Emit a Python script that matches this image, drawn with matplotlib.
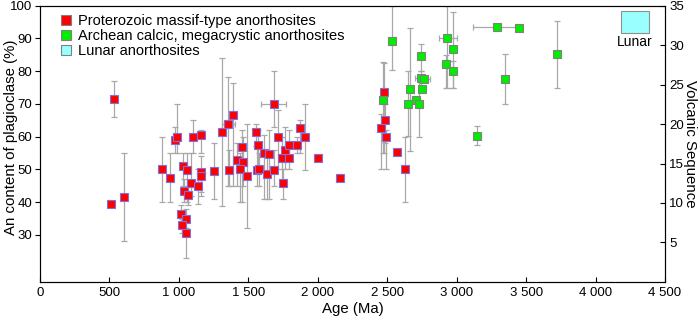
import numpy as np
import matplotlib
matplotlib.use("Agg")
import matplotlib.pyplot as plt
from matplotlib.patches import Rectangle
from matplotlib.lines import Line2D

plt.rcParams["font.family"] = ["Liberation Sans", "DejaVu Sans"]

# Proterozoic massif-type anorthosites: age (Ma), An (%), lower / upper error-bar ends
prot_age = [509, 535, 605, 878, 938, 972, 988, 1104, 1162, 1032, 1058, 1162, 1162, 1085,
            1135, 1034, 1066, 1015, 1049, 1025, 1049, 1250, 1310, 1356, 1387, 1358, 1416,
            1457, 1459, 1440, 1493, 1555, 1567, 1565, 1580, 1610, 1651, 1634, 1685, 1682,
            1714, 1740, 1747, 1766, 1795, 1795, 1850, 1872, 1910, 2004, 2160, 2477, 2482,
            2455, 2494, 2570, 2630]
prot_an = [39.4, 71.4, 41.5, 50, 47.5, 59, 60, 60, 60.5, 51, 49.8, 49.2, 48, 45.9,
           44.9, 43.5, 42.3, 36.5, 35, 33, 30.5, 49.4, 61.4, 64, 66.6, 49.8, 52.9,
           56.9, 52.4, 50, 48, 61.4, 57.5, 49.9, 50, 55.1, 54.6, 48.6, 49.9, 70,
           60, 53.5, 45.9, 55.9, 57.6, 53.5, 57.6, 62.6, 60, 53.5, 47.5, 73.6, 65.1,
           62.6, 60, 55.3, 50]
prot_lo = [39.4, 66, 28, 40, 40, 55, 55, 55, 55, 45, 40, 43, 42, 42,
           39.5, 40, 39, 33, 32, 30.5, 23, 41, 38.8, 45, 45, 45, 45,
           40, 45, 40, 32, 57, 50, 45, 45, 41, 41, 41, 45, 63,
           50, 45, 41, 50, 53, 50, 55, 55, 49.8, 53.5, 47.5, 55, 58,
           50, 50, 55.3, 40]
prot_hi = [39.4, 77, 55, 60, 55, 63, 70, 65, 62, 55, 55, 54, 50, 55,
           50, 47, 45, 39, 38, 35, 32, 58.2, 84, 78.3, 76.3, 56, 58,
           62, 60, 55, 64, 64, 62, 57, 55, 60.5, 62, 55, 56, 80,
           68, 60, 50, 63, 62, 57, 60, 65, 70, 53.5, 47.5, 82.6, 70,
           67, 62, 55.3, 60]
# horizontal age errors (index, low, high)
prot_xerr = [(20, 1025, 1075), (23, 1308, 1404), (39, 1591, 1773)]

# Archean calcic, megacrystic anorthosites
arch_age = [2467, 2537, 2647, 2666, 2707, 2731, 2746, 2742, 2765, 2751, 2930, 2925,
            2976, 2976, 3288, 3451, 3345, 3144, 3725]
arch_an = [71.3, 89.2, 70.1, 74.5, 71.1, 70.1, 84.6, 78, 77.6, 74.6, 90.1, 82.1,
           86.7, 80.2, 93.6, 93.1, 77.7, 60.2, 85.1]
arch_lo = [55, 80.4, 60.1, 55.6, 71.1, 60, 80, 75, 77.6, 74.6, 75, 75,
           75, 75, 92.5, 93.1, 70, 57.3, 75]
arch_hi = [82.7, 100, 80.2, 93.3, 71.1, 78, 88.3, 80, 77.6, 74.6, 100, 85,
           98, 83, 94.5, 93.1, 85.2, 63.3, 95.2]
arch_xerr = [(7, 2700, 2790), (8, 2720, 2810), (10, 2870, 3000), (14, 3115, 3456)]

# Lunar anorthosites field (age range, An range)
lunar_age = (4185, 4385)
lunar_an = (91.6, 98.5)

x_ticks = [0, 500, 1000, 1500, 2000, 2500, 3000, 3500, 4000, 4500]
x_labels = ["0", "500", "1 000", "1 500", "2 000", "2 500", "3 000", "3 500", "4 000", "4 500"]

fig = plt.figure(figsize=(7, 3.16), dpi=100)
ax = fig.add_axes([0.057, 0.108, 0.893, 0.874])

ebar = dict(fmt="none", ecolor="#a8a8a8", elinewidth=0.9, capsize=2.5, capthick=0.9, zorder=2)


def draw(age, an, lo, hi, xerr, face, edge):
    age = np.array(age, float)
    an = np.array(an, float)
    yerr = [an - np.array(lo), np.array(hi) - an]
    ax.errorbar(age, an, yerr=yerr, **ebar)
    for i, a0, a1 in xerr:
        ax.errorbar([age[i]], [an[i]], xerr=[[age[i] - a0], [a1 - age[i]]], **ebar)
    ax.plot(age, an, "s", ms=6.2, mfc=face, mec=edge, mew=0.8, zorder=3, ls="none")


draw(prot_age, prot_an, prot_lo, prot_hi, prot_xerr, "#ff0000", "#7f6fe0")
draw(arch_age, arch_an, arch_lo, arch_hi, arch_xerr, "#00ee00", "#808080")

ax.add_patch(Rectangle((lunar_age[0], lunar_an[0]), lunar_age[1] - lunar_age[0],
                       lunar_an[1] - lunar_an[0], fc="#99ffff", ec="#909090", lw=0.8, zorder=3))
ax.text(sum(lunar_age) / 2, lunar_an[0] - 0.6, "Lunar", ha="center", va="top", fontsize=10)

ax.set_xlim(0, 4500)
ax.set_ylim(15.65, 100)
ax.set_xticks(x_ticks)
ax.set_xticklabels(x_labels)
ax.set_yticks(range(30, 101, 10))
ax.tick_params(axis="x", direction="in", length=3.5, labelsize=9.5, pad=4)
ax.tick_params(axis="y", direction="out", length=3.5, labelsize=9.5, pad=2)
ax.set_xlabel("Age (Ma)", fontsize=10.8)
ax.xaxis.set_label_coords(0.5, -0.074)
ax.set_ylabel("An content of plagioclase (%)", fontsize=10.8)
ax.yaxis.set_label_coords(-0.035, 0.525)
for s in ax.spines.values():
    s.set_color("#333333")

ax2 = ax.twinx()
ax2.set_ylim(0, 35)
ax2.set_yticks(range(5, 36, 5))
ax2.tick_params(axis="y", direction="in", length=3.5, labelsize=9.5, pad=3)
ax2.set_ylabel("Volcanic Sequence", fontsize=10.8, rotation=270, va="center")
ax2.yaxis.set_label_coords(1.04, 0.5)

handles = [
    Line2D([], [], marker="s", ls="none", ms=7, mfc="#ff0000", mec="#808080", mew=0.8),
    Line2D([], [], marker="s", ls="none", ms=7, mfc="#00ee00", mec="#808080", mew=0.8),
    Line2D([], [], marker="s", ls="none", ms=7, mfc="#99ffff", mec="#808080", mew=0.8),
]
labels = ["Proterozoic massif-type anorthosites",
          "Archean calcic, megacrystic anorthosites",
          "Lunar anorthosites"]
ax.legend(handles, labels, loc="upper left", bbox_to_anchor=(0.02, 1.0), frameon=False,
          fontsize=10.5, handlelength=0.8, handletextpad=0.4, labelspacing=0.08,
          borderaxespad=0.15)

fig.savefig("out.png", dpi=100)
